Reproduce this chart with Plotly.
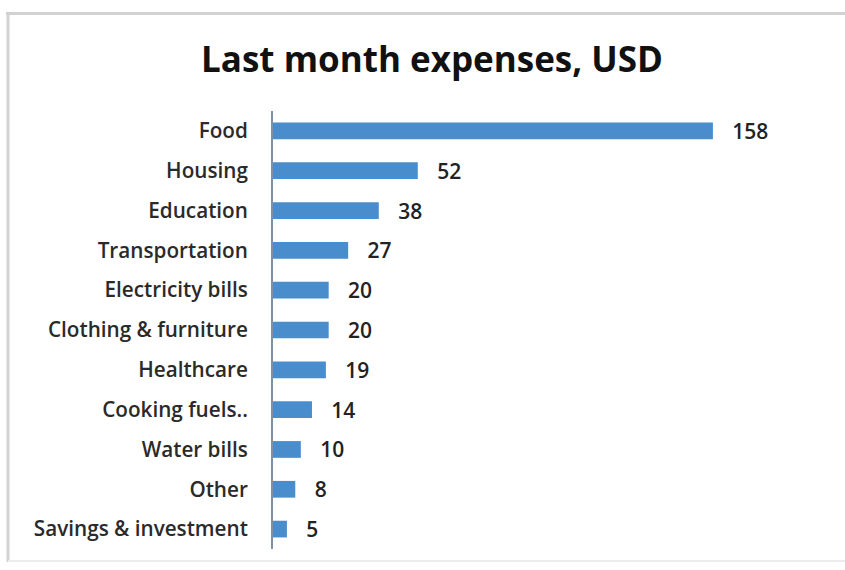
import plotly.graph_objects as go

categories = [
    "Food", "Housing", "Education", "Transportation", "Electricity bills",
    "Clothing & furniture", "Healthcare", "Cooking fuels..", "Water bills",
    "Other", "Savings & investment",
]
amounts = [158, 52, 38, 27, 20, 20, 19, 14, 10, 8, 5]
chart_title = "Last month expenses, USD"

W, H = 845, 570
ML, MR, MT, MB = 273, 43, 111, 21
plot_w = W - ML - MR
plot_h = H - MT - MB


def px_x(px):
    return (px - ML) / plot_w


def px_y(py):
    return (H - MB - py) / plot_h


fig = go.Figure(
    go.Bar(
        x=amounts,
        y=categories,
        orientation="h",
        width=0.42,
        marker=dict(color="#4a8dcc", line=dict(width=0)),
        text=amounts,
        texttemplate="\u00a0\u00a0\u00a0%{x}",
        textposition="outside",
        constraintext="none",
        textfont=dict(family="Open Sans", size=21, color="#222222", weight=600),
        cliponaxis=False,
        hoverinfo="skip",
    )
)

# light grey frame around the chart
frame = dict(color="#d2d2d2", width=3)
fig.add_shape(type="line", xref="paper", yref="paper",
              x0=px_x(6), x1=px_x(W), y0=px_y(13.5), y1=px_y(13.5), line=frame)
fig.add_shape(type="line", xref="paper", yref="paper",
              x0=px_x(8), x1=px_x(8), y0=px_y(12), y1=px_y(562), line=frame)
fig.add_shape(type="line", xref="paper", yref="paper",
              x0=px_x(8), x1=px_x(W), y0=px_y(561), y1=px_y(561),
              line=dict(color="#ececec", width=2))

fig.update_layout(
    width=W,
    height=H,
    margin=dict(l=ML, r=MR, t=MT, b=MB),
    paper_bgcolor="white",
    plot_bgcolor="white",
    showlegend=False,
    title=dict(
        text="<b>" + chart_title + "</b>",
        x=(432) / W,
        xanchor="center",
        y=1 - 60 / H,
        yanchor="middle",
        font=dict(family="Open Sans", size=35, color="#111111"),
    ),
    xaxis=dict(
        range=[0, 190],
        visible=False,
        showgrid=False,
        zeroline=False,
    ),
    yaxis=dict(
        autorange="reversed",
        showgrid=False,
        zeroline=False,
        showline=True,
        linecolor="#7f8fa6",
        linewidth=2,
        ticks="",
        ticklabelstandoff=19,
        tickfont=dict(family="Open Sans", size=20.7, color="#2a2a2a", weight=600),
    ),
)

fig.write_html("out.html")
